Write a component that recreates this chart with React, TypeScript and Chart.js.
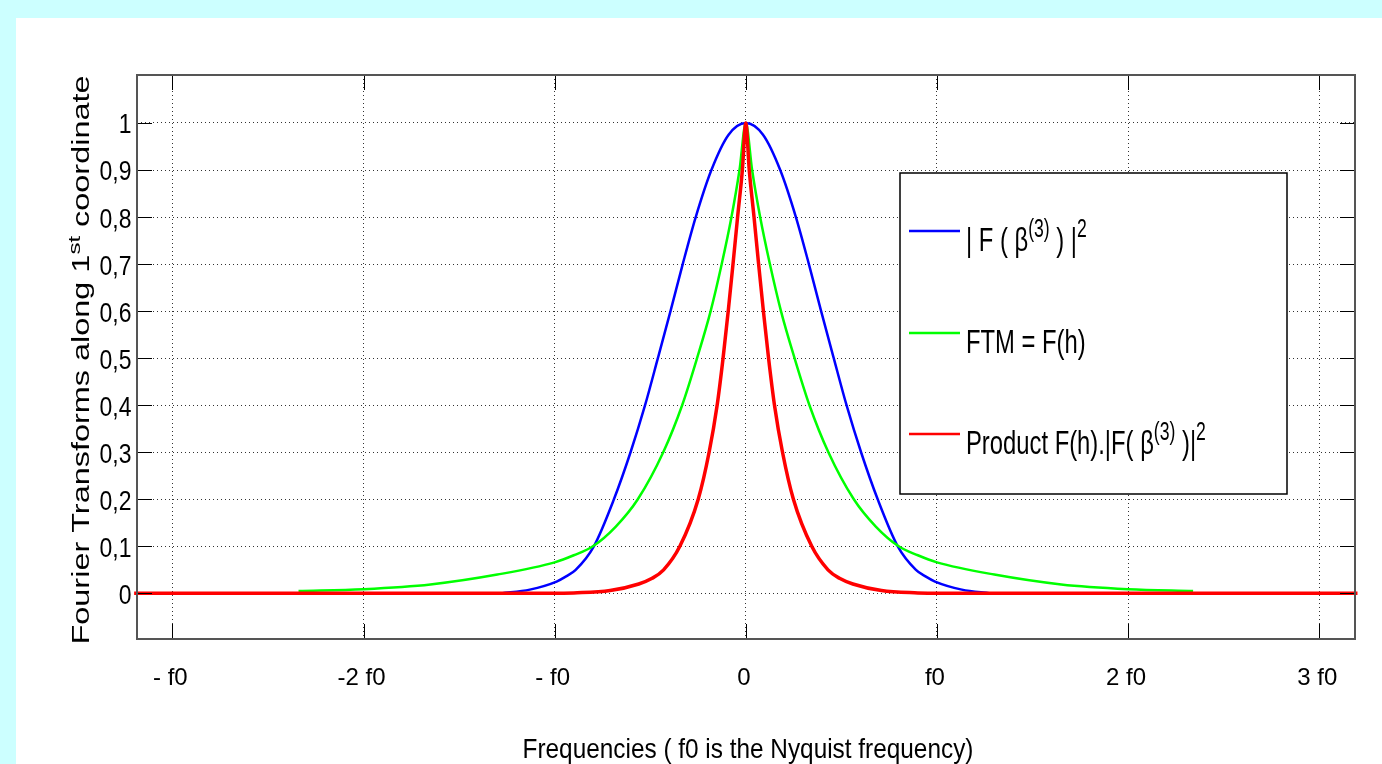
import React, { useEffect, useRef } from 'react';
import { Chart, registerables } from 'chart.js';

Chart.register(...registerables);

// ---- data (x in units of f0, the Nyquist frequency) ----
const xTickValues = [-3, -2, -1, 0, 1, 2, 3];
const xTickLabels = ['- f0', '-2 f0', '- f0', '0', 'f0', '2 f0', '3 f0'];
const yTickValues = [0, 0.1, 0.2, 0.3, 0.4, 0.5, 0.6, 0.7, 0.8, 0.9, 1];
const yTickLabels = ['0', '0,1', '0,2', '0,3', '0,4', '0,5', '0,6', '0,7', '0,8', '0,9', '1'];

// |F(beta3)|^2  (blue)
const bsplineX = [-1.28, -1.13, -0.99, -0.94, -0.89, -0.795, -0.69, -0.603, -0.527, -0.46, -0.394, -0.33, -0.262, -0.18, -0.09, 0,
  0.09, 0.18, 0.262, 0.33, 0.394, 0.46, 0.527, 0.603, 0.69, 0.795, 0.89, 0.94, 0.99, 1.13, 1.28];
const bsplineY = [0, 0.008, 0.025, 0.036, 0.05, 0.1, 0.2, 0.3, 0.4, 0.5, 0.6, 0.7, 0.8, 0.9, 0.975, 1,
  0.975, 0.9, 0.8, 0.7, 0.6, 0.5, 0.4, 0.3, 0.2, 0.1, 0.05, 0.036, 0.025, 0.008, 0];

// FTM = F(h)  (green)
const ftmX = [-2.34, -2.0, -1.65, -1.3, -1.0, -0.9, -0.8, -0.68, -0.565, -0.432, -0.333, -0.255, -0.184, -0.126, -0.075, -0.033, 0,
  0.033, 0.075, 0.126, 0.184, 0.255, 0.333, 0.432, 0.565, 0.68, 0.8, 0.9, 1.0, 1.3, 1.65, 2.0, 2.34];
const ftmY = [0.005, 0.009, 0.019, 0.04, 0.066, 0.081, 0.1, 0.142, 0.2, 0.3, 0.4, 0.5, 0.6, 0.7, 0.8, 0.9, 1,
  0.9, 0.8, 0.7, 0.6, 0.5, 0.4, 0.3, 0.2, 0.142, 0.1, 0.081, 0.066, 0.04, 0.019, 0.009, 0.005];

// Product F(h).|F(beta3)|^2  (red)
const productX = [-3.2, -1.0, -0.9, -0.71, -0.56, -0.49, -0.43, -0.345, -0.249, -0.192, -0.15, -0.119, -0.092, -0.067, -0.043, -0.018, 0,
  0.018, 0.043, 0.067, 0.092, 0.119, 0.15, 0.192, 0.249, 0.345, 0.43, 0.49, 0.56, 0.71, 0.9, 1.0, 3.2];
const productY = [0, 0, 0.001, 0.006, 0.02, 0.032, 0.05, 0.1, 0.2, 0.3, 0.4, 0.5, 0.6, 0.7, 0.8, 0.9, 1,
  0.9, 0.8, 0.7, 0.6, 0.5, 0.4, 0.3, 0.2, 0.1, 0.05, 0.032, 0.02, 0.006, 0.001, 0, 0];

const BLUE = '#0000ff';
const GREEN = '#00ff00';
const RED = '#ff0000';
const FONT = '"Liberation Sans", Arial, Helvetica, sans-serif';

type Seg = { t: string; sup?: boolean };
const SUP = 0.74;

function segWidth(ctx: CanvasRenderingContext2D, segs: Seg[], size: number) {
  let w = 0;
  for (const s of segs) {
    ctx.font = `${s.sup ? size * SUP : size}px ${FONT}`;
    w += ctx.measureText(s.t).width;
  }
  return w;
}

function drawRich(ctx: CanvasRenderingContext2D, segs: Seg[], size: number, startX: number) {
  let cx = startX;
  for (const s of segs) {
    const fs = s.sup ? size * SUP : size;
    ctx.font = `${fs}px ${FONT}`;
    ctx.textAlign = 'left';
    ctx.textBaseline = 'alphabetic';
    ctx.fillText(s.t, cx, s.sup ? -size * 0.4 : 0);
    cx += ctx.measureText(s.t).width;
  }
}

function drawText(ctx: CanvasRenderingContext2D, text: string, x: number, y: number, size: number, sx: number,
  align: CanvasTextAlign, baseline: CanvasTextBaseline) {
  ctx.save();
  ctx.translate(x, y);
  ctx.scale(sx, 1);
  ctx.font = `${size}px ${FONT}`;
  ctx.fillStyle = '#000';
  ctx.textAlign = align;
  ctx.textBaseline = baseline;
  ctx.fillText(text, 0, 0);
  ctx.restore();
}

const framePlugin = {
  id: 'matlabFrame',
  beforeDraw(chart: any) {
    const ctx = chart.ctx as CanvasRenderingContext2D;
    ctx.save();
    ctx.fillStyle = '#ccffff';
    ctx.fillRect(0, 0, chart.width, chart.height);
    ctx.fillStyle = '#ffffff';
    ctx.fillRect(16, 18, chart.width - 16, chart.height - 18);
    ctx.restore();
  },
  afterDraw(chart: any) {
    const ctx = chart.ctx as CanvasRenderingContext2D;
    const { left, right, top, bottom } = chart.chartArea;
    const xs = chart.scales.x;
    const ys = chart.scales.y;
    ctx.save();
    // ticks (inward)
    ctx.strokeStyle = '#000';
    ctx.lineWidth = 1;
    const tl = 15;
    ctx.beginPath();
    xTickValues.forEach((v) => {
      const px = Math.round(xs.getPixelForValue(v)) + 0.5;
      ctx.moveTo(px, bottom); ctx.lineTo(px, bottom - tl);
      ctx.moveTo(px, top); ctx.lineTo(px, top + tl);
    });
    yTickValues.forEach((v) => {
      const py = Math.round(ys.getPixelForValue(v)) + 0.5;
      ctx.moveTo(left, py); ctx.lineTo(left + tl, py);
      ctx.moveTo(right, py); ctx.lineTo(right - tl, py);
    });
    ctx.stroke();
    // box
    ctx.strokeStyle = '#555';
    ctx.lineWidth = 2;
    ctx.strokeRect(left, top, right - left, bottom - top);

    // tick labels
    xTickValues.forEach((v, i) => {
      drawText(ctx, xTickLabels[i], xs.getPixelForValue(v) - 2, 685, 24, 1.0, 'center', 'alphabetic');
    });
    yTickValues.forEach((v, i) => {
      drawText(ctx, yTickLabels[i], 131.5, ys.getPixelForValue(v) + 3, 27, 0.85, 'right', 'middle');
    });

    // x title
    drawText(ctx, 'Frequencies ( f0 is the Nyquist frequency)', 748, 758, 28, 0.87, 'center', 'alphabetic');

    // y title (rotated)
    const ySegs: Seg[] = [
      { t: 'Fourier Transforms along 1' },
      { t: 'st', sup: true },
      { t: ' coordinate' },
    ];
    ctx.save();
    ctx.translate(89, 360);
    ctx.rotate(-Math.PI / 2);
    ctx.scale(1.41, 1);
    ctx.fillStyle = '#000';
    const yw = segWidth(ctx, ySegs, 23);
    drawRich(ctx, ySegs, 23, -yw / 2);
    ctx.restore();

    // legend
    const lx = 900, ly = 173, lw = 387, lh = 321;
    ctx.fillStyle = '#fff';
    ctx.fillRect(lx, ly, lw, lh);
    ctx.strokeStyle = '#000';
    ctx.lineWidth = 1.5;
    ctx.strokeRect(lx, ly, lw, lh);
    const rows: { color: string; y: number; segs: Seg[] }[] = [
      { color: BLUE, y: 231, segs: [{ t: '| F ( β' }, { t: '(3)', sup: true }, { t: ' ) |' }, { t: '2', sup: true }] },
      { color: GREEN, y: 333, segs: [{ t: 'FTM = F(h)' }] },
      { color: RED, y: 434, segs: [{ t: 'Product F(h).|F( β' }, { t: '(3)', sup: true }, { t: ' )|' }, { t: '2', sup: true }] },
    ];
    rows.forEach((r) => {
      ctx.strokeStyle = r.color;
      ctx.lineWidth = 2.5;
      ctx.beginPath();
      ctx.moveTo(909, r.y);
      ctx.lineTo(960, r.y);
      ctx.stroke();
      ctx.save();
      ctx.translate(966, r.y + 20);
      ctx.scale(0.7, 1);
      ctx.fillStyle = '#000';
      drawRich(ctx, r.segs, 34, 0);
      ctx.restore();
    });
    ctx.restore();
  },
};

function toPoints(xs: number[], ys: number[]) {
  return xs.map((x, i) => ({ x, y: ys[i] }));
}

export default function App() {
  const ref = useRef<HTMLCanvasElement | null>(null);
  useEffect(() => {
    if (!ref.current) return;
    const chart = new Chart(ref.current, {
      type: 'line',
      data: {
        datasets: [
          {
            label: 'Product F(h).|F(β(3))|²',
            data: toPoints(productX, productY),
            borderColor: RED, borderWidth: 3.5, pointRadius: 0, fill: false,
            cubicInterpolationMode: 'monotone', order: 0,
          },
          {
            label: 'FTM = F(h)',
            data: toPoints(ftmX, ftmY),
            borderColor: GREEN, borderWidth: 2.5, pointRadius: 0, fill: false,
            cubicInterpolationMode: 'monotone', order: 1,
          },
          {
            label: '| F ( β(3) ) |²',
            data: toPoints(bsplineX, bsplineY),
            borderColor: BLUE, borderWidth: 2.5, pointRadius: 0, fill: false,
            cubicInterpolationMode: 'monotone', order: 2,
          },
        ],
      },
      options: {
        responsive: false,
        animation: false,
        clip: false as any,
        layout: { padding: { top: 75, right: 27, left: 0, bottom: 0 } },
        plugins: { legend: { display: false }, tooltip: { enabled: false } },
        scales: {
          x: {
            type: 'linear', min: -3.185, max: 3.187,
            afterBuildTicks: (s: any) => { s.ticks = xTickValues.map((v) => ({ value: v })); },
            afterFit: (s: any) => { s.height = 125; },
            ticks: { display: false },
            grid: { drawTicks: false, color: '#333', lineWidth: 1 },
            border: { display: false, dash: [1, 3] },
          },
          y: {
            type: 'linear', min: -0.097, max: 1.102,
            afterBuildTicks: (s: any) => { s.ticks = yTickValues.map((v) => ({ value: v })); },
            afterFit: (s: any) => { s.width = 137; },
            ticks: { display: false },
            grid: { drawTicks: false, color: '#333', lineWidth: 1 },
            border: { display: false, dash: [1, 3] },
          },
        },
      },
      plugins: [framePlugin],
    } as any);
    return () => chart.destroy();
  }, []);
  return (
    <div style={{ position: 'fixed', left: 0, top: 0, width: 1382, height: 764, overflow: 'hidden' }}>
      <canvas ref={ref} width={1382} height={764} style={{ display: 'block', width: 1382, height: 764 }} />
    </div>
  );
}
